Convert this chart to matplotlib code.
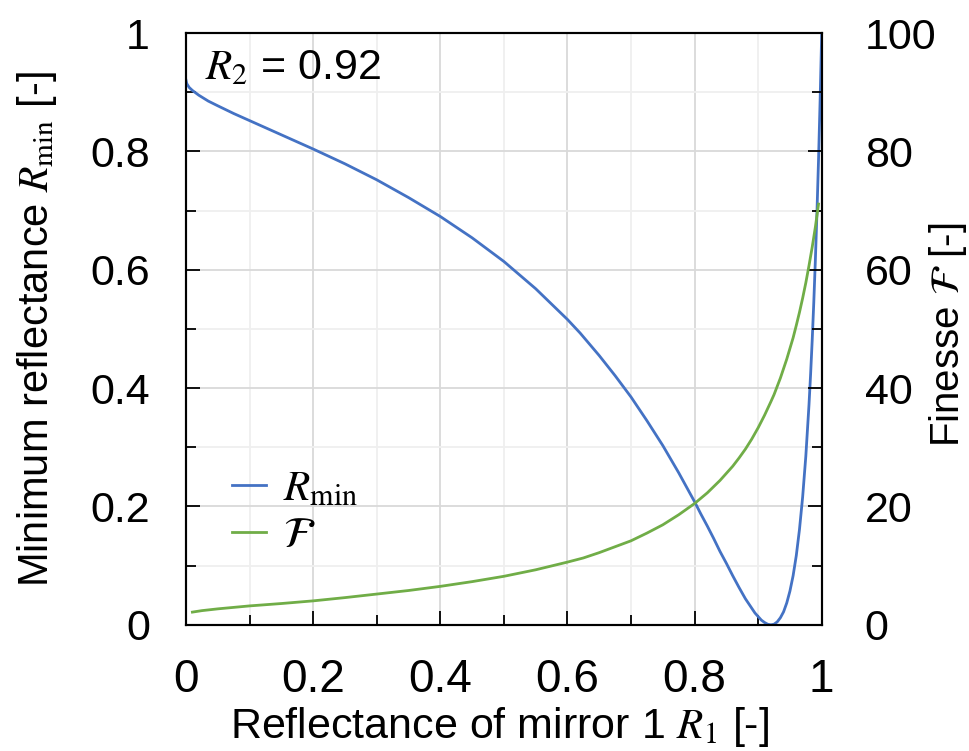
import matplotlib
matplotlib.use("Agg")
import matplotlib.pyplot as plt
from matplotlib.ticker import MultipleLocator

# values (R2 = 0.92)
r1_rmin = [0.0, 0.001, 0.002, 0.005, 0.01, 0.02, 0.035, 0.05, 0.075, 0.1, 0.15,
           0.2, 0.25, 0.3, 0.35, 0.4, 0.45, 0.5, 0.55, 0.6, 0.62, 0.65, 0.675,
           0.7, 0.725, 0.75, 0.775, 0.8, 0.81, 0.82, 0.83, 0.84, 0.85, 0.86,
           0.87, 0.88, 0.89, 0.895, 0.9, 0.905, 0.91, 0.915, 0.92, 0.925, 0.93,
           0.935, 0.94, 0.945, 0.95, 0.955, 0.96, 0.965, 0.97, 0.975, 0.98,
           0.9825, 0.985, 0.9875, 0.99, 0.9925, 0.995, 0.9975, 1.0]
rmin = [0.920, 0.915, 0.913, 0.908, 0.903, 0.895, 0.885, 0.877, 0.864, 0.852,
        0.828, 0.804, 0.779, 0.752, 0.722, 0.690, 0.654, 0.614, 0.568, 0.516,
        0.493, 0.455, 0.421, 0.385, 0.345, 0.303, 0.257, 0.208, 0.187, 0.167,
        0.146, 0.124, 0.104, 0.083, 0.063, 0.044, 0.028, 0.020, 0.014, 0.008,
        0.004, 0.001, 0.0, 0.001, 0.005, 0.012, 0.022, 0.037, 0.057, 0.083,
        0.117, 0.161, 0.216, 0.285, 0.372, 0.423, 0.480, 0.544, 0.616, 0.696,
        0.786, 0.887, 1.0]

r1_fin = [0.01, 0.025, 0.05, 0.1, 0.15, 0.2, 0.25, 0.3, 0.35, 0.4, 0.45, 0.5,
          0.55, 0.6, 0.625, 0.65, 0.675, 0.7, 0.725, 0.75, 0.775, 0.8, 0.82,
          0.84, 0.86, 0.87, 0.88, 0.89, 0.9, 0.91, 0.92, 0.925, 0.935, 0.94,
          0.945, 0.955, 0.96, 0.965, 0.97, 0.975, 0.98, 0.985, 0.99, 0.995]
finesse = [2.15, 2.4, 2.7, 3.2, 3.6, 4.05, 4.6, 5.2, 5.8, 6.5, 7.3, 8.2, 9.3,
           10.6, 11.3, 12.2, 13.2, 14.2, 15.5, 16.9, 18.6, 20.5, 22.3, 24.4,
           26.8, 28.2, 29.7, 31.4, 33.3, 35.4, 37.7, 38.9, 41.7, 43.3, 44.9,
           48.5, 50.6, 52.8, 55.2, 57.8, 60.7, 63.8, 67.2, 71.1]

blue = "#4472c4"
green = "#70ad47"

plt.rcParams["font.family"] = ["Liberation Sans", "DejaVu Sans"]
plt.rcParams["mathtext.fontset"] = "stix"

fig = plt.figure(figsize=(9.69, 7.51), dpi=100)
ax = fig.add_axes([0.192, 0.168, 0.656, 0.788])
ax2 = ax.twinx()

l1, = ax.plot(r1_rmin, rmin, color=blue, lw=2.0, label=r"$R_\mathrm{min}$", zorder=3)
l2, = ax2.plot(r1_fin, finesse, color=green, lw=2.0, label=r"$\mathcal{F}$", zorder=2)

ax.set_xlim(0, 1)
ax.set_ylim(0, 1)
ax2.set_ylim(0, 100)

ax.xaxis.set_major_locator(MultipleLocator(0.2))
ax.xaxis.set_minor_locator(MultipleLocator(0.1))
ax.yaxis.set_major_locator(MultipleLocator(0.2))
ax.yaxis.set_minor_locator(MultipleLocator(0.1))
ax2.yaxis.set_major_locator(MultipleLocator(20))
ax2.yaxis.set_minor_locator(MultipleLocator(10))

fmt = lambda v, p: "0" if abs(v) < 1e-9 else ("1" if abs(v - 1) < 1e-9 else f"{v:g}")
ax.xaxis.set_major_formatter(fmt)
ax.yaxis.set_major_formatter(fmt)

ax.grid(True, which="major", color="#d9d9d9", lw=1.3)
ax.grid(True, which="minor", color="#efefef", lw=1.3)
ax.set_axisbelow(True)

for a in (ax, ax2):
    a.tick_params(which="major", direction="in", length=10, width=1.3)
    a.tick_params(which="minor", direction="in", length=7, width=1.3)
    for s in a.spines.values():
        s.set_linewidth(1.5)
ax.tick_params(axis="y", labelsize=31, pad=26)
ax2.tick_params(axis="y", labelsize=31, pad=31)
ax.tick_params(axis="x", labelsize=33, pad=24)

ax.set_xlabel(r"Reflectance of mirror 1 $R_1$ [-]", fontsize=31)
ax.set_ylabel(r"Minimum reflectance $R_\mathrm{min}$ [-]", fontsize=30)
ax2.set_ylabel(r"Finesse $\mathcal{F}$ [-]", fontsize=29)
ax.xaxis.set_label_coords(0.494, -0.135)
ax.yaxis.set_label_coords(-0.200, 0.5)
ax2.yaxis.set_label_coords(1.166, 0.49)

ax.text(0.03, 0.975, r"$R_2$ = 0.92", transform=ax.transAxes, fontsize=31,
        va="top", ha="left")

ax.legend(handles=[l1, l2], loc="center left", bbox_to_anchor=(0.072, 0.19),
          frameon=False, fontsize=31, handlelength=0.8, handletextpad=0.4,
          labelspacing=0.15, borderaxespad=0, borderpad=0)

fig.savefig("out.png", dpi=100)
